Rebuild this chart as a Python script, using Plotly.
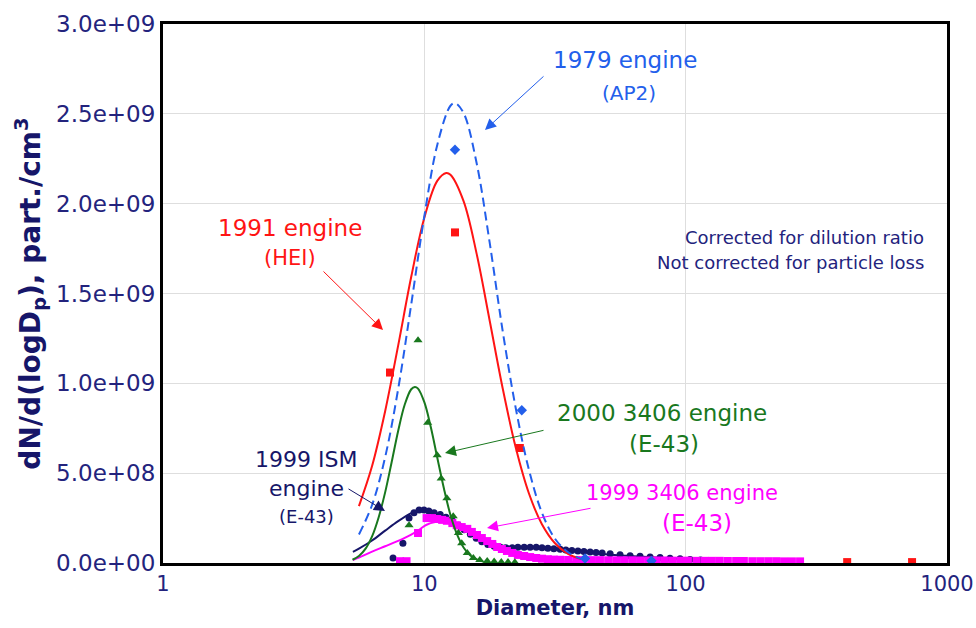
import plotly.graph_objects as go

# ---------------- data ----------------
# 1979 engine (AP2) fit curve (blue dashed)
blue_fit_x = [5.62, 6.31, 7.08, 7.94, 8.91, 10.0, 11.22, 12.59, 13.11, 14.13, 15.85, 17.78, 19.95, 22.39, 25.12, 28.18, 31.62, 35.48, 39.81]
blue_fit_y = [1.59e8, 3.23e8, 5.89e8, 9.68e8, 1.44e9, 1.93e9, 2.33e9, 2.545e9, 2.56e9, 2.505e9, 2.226e9, 1.784e9, 1.29e9, 8.6e8, 5.2e8, 2.8e8, 1.35e8, 6.0e7, 2.3e7]
blue_pts_x = [13.1, 23.6, 41.2, 74.0]
blue_pts_y = [2.30e9, 8.5e8, 2.5e7, 1.2e7]

# 1991 engine (HEI) fit curve (red)
red_fit_x = [5.62, 6.31, 7.08, 7.94, 8.91, 10.0, 11.22, 12.13, 12.59, 14.13, 15.85, 17.78, 19.95, 22.39, 25.12, 28.18, 31.62, 35.48, 39.81]
red_fit_y = [3.17e8, 5.40e8, 8.45e8, 1.21e9, 1.593e9, 1.922e9, 2.128e9, 2.171e9, 2.161e9, 2.014e9, 1.722e9, 1.35e9, 9.71e8, 6.41e8, 3.88e8, 2.16e8, 1.10e8, 5.1e7, 2.2e7]
red_pts_x = [7.39, 13.1, 23.2, 415.0, 735.0]
red_pts_y = [1.06e9, 1.84e9, 6.4e8, 5e6, 5e6]

# 2000 3406 engine (E-43) fit curve (green)
green_fit_x = [5.31, 5.62, 5.96, 6.31, 6.68, 7.08, 7.50, 7.94, 8.41, 8.91, 9.20, 9.44, 10.0, 10.59, 11.22, 11.89, 12.59, 13.34, 14.13, 14.96, 15.85, 16.79]
green_fit_y = [1.8e7, 3.9e7, 8.0e7, 1.48e8, 2.52e8, 3.93e8, 5.62e8, 7.35e8, 8.81e8, 9.67e8, 9.8e8, 9.72e8, 8.95e8, 7.55e8, 5.83e8, 4.13e8, 2.67e8, 1.59e8, 8.6e7, 4.3e7, 2.0e7, 8e6]
green_pts_x = [8.74, 9.46, 10.3, 11.2, 11.6, 12.2, 12.9, 13.5, 13.9, 14.6, 15.4, 16.3, 17.4, 18.5, 19.7, 20.9, 22.2]
green_pts_y = [2.1e8, 1.24e9, 7.8e8, 6.0e8, 4.7e8, 3.6e8, 2.6e8, 1.67e8, 1.1e8, 5.6e7, 2.8e7, 1.7e7, 1.1e7, 8e6, 5e6, 5e6, 4e6]

# 1999 ISM engine (E-43) fit curve and data (navy)
navy_fit_x = [5.33, 5.62, 6.31, 7.08, 7.94, 8.91, 9.55, 10.0, 11.2, 12.6, 14.1, 15.8, 17.8, 20.0, 22.4, 25.1, 28.2, 31.6, 35.5, 39.8, 44.7, 50.1, 63.1, 79.4, 100.0, 126.0]
navy_fit_y = [6.2e7, 8.0e7, 1.25e8, 1.8e8, 2.33e8, 2.78e8, 2.95e8, 2.95e8, 2.75e8, 2.42e8, 2.0e8, 1.55e8, 1.2e8, 9.6e7, 8.7e7, 8.6e7, 8.4e7, 7.8e7, 7.0e7, 6.3e7, 5.6e7, 4.8e7, 3.8e7, 2.9e7, 2.1e7, 1.4e7]
navy_pts_x = [7.59, 8.28, 8.74, 9.13, 9.55, 9.97, 10.4, 10.9, 11.5, 12.1, 12.8, 13.5, 14.2, 15.0, 15.8, 16.6, 17.5, 18.5, 19.5, 20.5, 21.7, 22.8, 24.1, 25.4, 26.8, 28.2, 29.7, 31.3, 33.1, 34.8, 36.7, 38.7, 40.8, 43.1, 45.4, 47.9, 51.4, 56.1, 61.3, 66.9, 73.1, 79.8, 87.1, 95.2, 104.0, 114.0, 124.0]
navy_pts_y = [2.8e7, 1.1e8, 2.5e8, 2.8e8, 2.95e8, 2.95e8, 2.9e8, 2.8e8, 2.7e8, 2.55e8, 2.35e8, 2.1e8, 1.85e8, 1.6e8, 1.38e8, 1.18e8, 1.03e8, 9.3e7, 8.7e7, 8.5e7, 8.5e7, 8.7e7, 8.8e7, 8.8e7, 8.7e7, 8.5e7, 8.2e7, 7.9e7, 7.6e7, 7.3e7, 7.0e7, 6.7e7, 6.4e7, 6.1e7, 5.8e7, 5.5e7, 5.1e7, 4.6e7, 4.1e7, 3.7e7, 3.3e7, 3.0e7, 2.7e7, 2.4e7, 2.0e7, 1.7e7, 1.4e7]

# 1999 3406 engine (E-43) fit curve and data (magenta)
mag_fit_x = [5.33, 5.62, 6.31, 7.08, 7.94, 8.91, 9.55, 10.2, 11.0, 11.7, 12.6, 14.1, 15.8, 17.8, 20.0, 22.4, 25.1, 28.2, 31.6, 35.5, 39.8]
mag_fit_y = [1.7e7, 3.0e7, 6.3e7, 9.3e7, 1.23e8, 1.58e8, 1.85e8, 2.13e8, 2.28e8, 2.3e8, 2.22e8, 1.98e8, 1.62e8, 1.22e8, 8.5e7, 5.6e7, 3.6e7, 2.2e7, 1.3e7, 7e6, 4e6]
mag_pts_x = [8.07, 8.55, 9.46, 10.2, 10.7, 11.2, 11.7, 12.2, 12.8, 13.3, 13.9, 14.6, 15.2, 15.9, 16.6, 17.4, 18.2, 19.0, 19.8, 20.7, 21.7, 22.8, 24.1, 25.4, 26.8, 28.2, 29.7, 31.3,
             33.1, 35.5, 38.1, 40.8, 43.8, 47.0, 50.5, 54.2, 58.1, 62.4, 66.9, 71.8, 77.1, 82.7, 88.7, 95.2, 102.0, 110.0, 118.0, 126.0, 135.0, 145.0, 156.0, 167.0, 180.0, 193.0, 207.0, 222.0, 238.0, 255.0, 274.0]
mag_pts_y = [1e7, 1e7, 1.67e8, 2.5e8, 2.5e8, 2.45e8, 2.4e8, 2.35e8, 2.22e8, 2.1e8, 2.0e8, 1.9e8, 1.73e8, 1.56e8, 1.39e8, 1.22e8, 1.06e8, 8.9e7, 7.8e7, 6.7e7, 5.6e7, 4.5e7, 3.9e7, 3.3e7, 2.8e7, 2.4e7, 2.1e7, 1.9e7,
             1.8e7, 1.7e7, 1.7e7, 1.6e7, 1.6e7, 1.6e7, 1.5e7, 1.5e7, 1.5e7, 1.5e7, 1.4e7, 1.4e7, 1.4e7, 1.4e7, 1.3e7, 1.3e7, 1.3e7, 1.2e7, 1.2e7, 1.2e7, 1.2e7, 1.1e7, 1.1e7, 1.1e7, 1.0e7, 1.0e7, 1.0e7, 1.0e7, 9e6, 9e6, 9e6]

x_tickvals = [1, 10, 100, 1000]
x_ticktext = ["1", "10", "100", "1000"]
y_tickvals = [0, 5e8, 1e9, 1.5e9, 2e9, 2.5e9, 3e9]
y_ticktext = ["0.0e+00", "5.0e+08", "1.0e+09", "1.5e+09", "2.0e+09", "2.5e+09", "3.0e+09"]

# ---------------- styles ----------------
BLUE = "rgb(35,95,235)"
RED = "rgb(255,20,20)"
GREEN = "rgb(25,120,30)"
NAVY = "rgb(22,22,105)"
MAG = "rgb(255,0,255)"
TXT = "rgb(35,35,125)"
FONT = "DejaVu Sans"

fig = go.Figure()

fig.add_trace(go.Scatter(x=navy_fit_x, y=navy_fit_y, mode="lines", line=dict(color=NAVY, width=2, shape="spline")))
fig.add_trace(go.Scatter(x=navy_pts_x, y=navy_pts_y, mode="markers", marker=dict(color=NAVY, size=7, symbol="circle")))
fig.add_trace(go.Scatter(x=mag_fit_x, y=mag_fit_y, mode="lines", line=dict(color=MAG, width=2, shape="spline")))
fig.add_trace(go.Scatter(x=mag_pts_x, y=mag_pts_y, mode="markers", marker=dict(color=MAG, size=8, symbol="square")))
fig.add_trace(go.Scatter(x=green_fit_x, y=green_fit_y, mode="lines", line=dict(color=GREEN, width=2, shape="spline")))
fig.add_trace(go.Scatter(x=green_pts_x, y=green_pts_y, mode="markers", marker=dict(color=GREEN, size=8, symbol="triangle-up")))
fig.add_trace(go.Scatter(x=red_fit_x, y=red_fit_y, mode="lines", line=dict(color=RED, width=2, shape="spline")))
fig.add_trace(go.Scatter(x=red_pts_x, y=red_pts_y, mode="markers", marker=dict(color=RED, size=8, symbol="square")))
fig.add_trace(go.Scatter(x=blue_fit_x, y=blue_fit_y, mode="lines", line=dict(color=BLUE, width=2, dash="9px,5px", shape="spline")))
fig.add_trace(go.Scatter(x=blue_pts_x, y=blue_pts_y, mode="markers", marker=dict(color=BLUE, size=8, symbol="diamond")))

# plot area in pixels
L, R, T, B = 163, 947, 24, 563
W, H = 976, 628

def px(x):
    return (x - L) / (R - L)

def py(y):
    return (B - y) / (B - T)

texts = [
    ("1979 engine", 625, 60, 23, BLUE, "center"),
    ("(AP2)", 629, 93, 20, BLUE, "center"),
    ("1991 engine", 290, 228, 23, RED, "center"),
    ("(HEI)", 290, 258, 21, RED, "center"),
    ("Corrected for dilution ratio", 926, 237, 18, TXT, "right"),
    ("Not corrected for particle loss", 926, 262, 18, TXT, "right"),
    ("2000 3406 engine", 662, 413, 23, GREEN, "center"),
    ("(E-43)", 664, 444, 23, GREEN, "center"),
    ("1999 ISM", 306, 459, 22, NAVY, "center"),
    ("engine", 306, 488, 22, NAVY, "center"),
    ("(E-43)", 306, 516, 18, NAVY, "center"),
    ("1999 3406 engine", 682, 493, 21, MAG, "center"),
    ("(E-43)", 697, 523, 23, MAG, "center"),
]
annotations = []
for t, x, y, s, c, al in texts:
    annotations.append(dict(text=t, xref="paper", yref="paper", x=px(x), y=py(y),
                            xanchor=al, yanchor="middle", showarrow=False,
                            font=dict(family=FONT, size=s, color=c)))

# arrows: head pixel, tail pixel
arrows = [
    ((485, 130), (545, 75), BLUE),
    ((383, 330), (322, 270), RED),
    ((445, 453), (545, 430), GREEN),
    ((385, 511), (347, 488), NAVY),
    ((487, 528), (592, 508), MAG),
]
for (hx, hy), (tx, ty), c in arrows:
    annotations.append(dict(text=" ", xref="paper", yref="paper", x=px(hx), y=py(hy),
                            axref="pixel", ayref="pixel", ax=tx - hx, ay=ty - hy,
                            showarrow=True, arrowhead=2, arrowsize=2.2, arrowwidth=1,
                            arrowcolor=c, standoff=0, startstandoff=0,
                            font=dict(size=1)))

fig.update_layout(
    width=W, height=H,
    margin=dict(l=L, r=W - R, t=T, b=H - B, autoexpand=False),
    paper_bgcolor="white", plot_bgcolor="white",
    showlegend=False,
    annotations=annotations,
    font=dict(family=FONT, color=TXT),
)
fig.update_xaxes(
    type="log", range=[0, 3], automargin=False,
    tickvals=x_tickvals, ticktext=x_ticktext,
    tickfont=dict(family=FONT, size=21, color=TXT),
    showgrid=True, gridcolor="rgb(222,222,222)", gridwidth=1,
    showline=True, linecolor="black", linewidth=3, mirror=True,
    ticks="", zeroline=False,
    title=dict(text="<b>Diameter, nm</b>", font=dict(family=FONT, size=21, color=NAVY), standoff=6),
)
fig.update_yaxes(
    range=[0, 3e9], automargin=False,
    tickvals=y_tickvals, ticktext=y_ticktext,
    tickfont=dict(family=FONT, size=23, color=TXT),
    showgrid=True, gridcolor="rgb(222,222,222)", gridwidth=1,
    showline=True, linecolor="black", linewidth=3, mirror=True,
    ticks="", zeroline=False,
    title=dict(text="<b>dN/d(logD<sub>p</sub>), part./cm<sup>3</sup></b>", font=dict(family=FONT, size=28, color=NAVY), standoff=8),
)

fig.write_html("out.html")
